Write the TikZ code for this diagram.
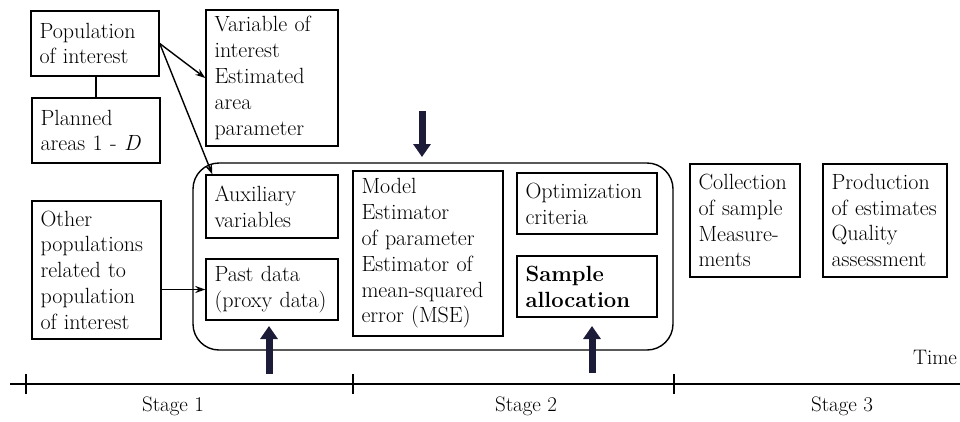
\documentclass[tikz,border=0pt]{standalone}
\usepackage{fontspec}
\setmainfont{Latin Modern Roman}
\usetikzlibrary{arrows.meta}
\definecolor{navy}{RGB}{28,28,56}
\tikzset{
  box/.style={draw=black, line width=1.4pt, rectangle, inner xsep=8pt, inner ysep=0pt,
    align=left, font=\fontsize{22}{25.8}\selectfont},
  thin/.style={line width=1.4pt, -{Stealth[length=10pt,width=7pt]}},
  thick/.style={draw=navy, line width=7pt, -{Triangle[length=13pt,width=17pt]}},
  lbl/.style={font=\fontsize{21}{24}\selectfont, inner sep=0pt},
}
\newcommand{\bx}[6]{% name, x1, y1, x2, y2, text
  \node[box, minimum width={#4-#2}, minimum height={#5-#3}, text width={#4-#2-17}]
    (#1) at ({(#2+#4)/2},{(#3+#5)/2}) {#6};}
\begin{document}
\begin{tikzpicture}[x=1pt,y=-1pt]
\useasboundingbox (0,0) rectangle (960,421);
% container
\draw[line width=1.4pt, rounded corners=26pt] (193,163) rectangle (673,350);
% boxes
\bx{pop}{31}{11}{159}{76}{Population\\of interest}
\bx{plan}{32}{98}{160}{163}{Planned\\areas 1 - \textit{D}}
\bx{var}{206}{10}{338}{146}{Variable of\\interest\\Estimated\\area\\parameter}
\bx{other}{32}{201}{161}{339}{Other\\populations\\related to\\population\\of interest}
\bx{aux}{206}{175}{338}{238}{Auxiliary\\variables}
\bx{past}{206}{259}{338}{320}{Past data\\(proxy data)}
\bx{model}{353}{171}{503}{336}{Model\\Estimator\\of parameter\\Estimator of\\mean-squared\\error (MSE)}
\bx{opt}{517}{173}{657}{234}{Optimization\\criteria}
\bx{samp}{517}{256}{657}{317}{\textbf{Sample}\\\textbf{allocation}}
\bx{coll}{690}{164}{800}{277}{Collection\\of sample\\Measure-\\ments}
\bx{prod}{823}{164}{947}{277}{Production\\of estimates\\Quality\\assessment}
% connectors
\draw[line width=1.4pt] (pop.south -| plan.north) -- (plan.north);
\draw[thin] (pop.east) -- (var.west);
\draw[thin] (pop.east) -- ([xshift=7pt]aux.north west);
\draw[thin] (other.east |- past.west) -- (past.west);
% thick arrows
\coordinate (ta1) at (422,111);
\coordinate (tb1) at (422,157);
\coordinate (ta2) at (269,374);
\coordinate (tb2) at (269,326);
\coordinate (ta3) at (592,373);
\coordinate (tb3) at (592,326);
\draw[thick] (ta1) -- (tb1);
\draw[thick] (ta2) -- (tb2);
\draw[thick] (ta3) -- (tb3);
% time axis
\coordinate (ax0) at (10,384);
\coordinate (ax1) at (960,384);
\draw[line width=1.4pt] (ax0) -- (ax1);
\foreach \t/\n in {26/k1,353/k2,674/k3}{
  \coordinate (\n a) at (\t,374);
  \coordinate (\n b) at (\t,394);
  \draw[line width=1.4pt] (\n a) -- (\n b);
}
\node[lbl] (time) at (935,357) {Time};
\node[lbl] (s1) at (173,406) {Stage 1};
\node[lbl] (s2) at (526,406) {Stage 2};
\node[lbl] (s3) at (842,406) {Stage 3};
\end{tikzpicture}
\end{document}
